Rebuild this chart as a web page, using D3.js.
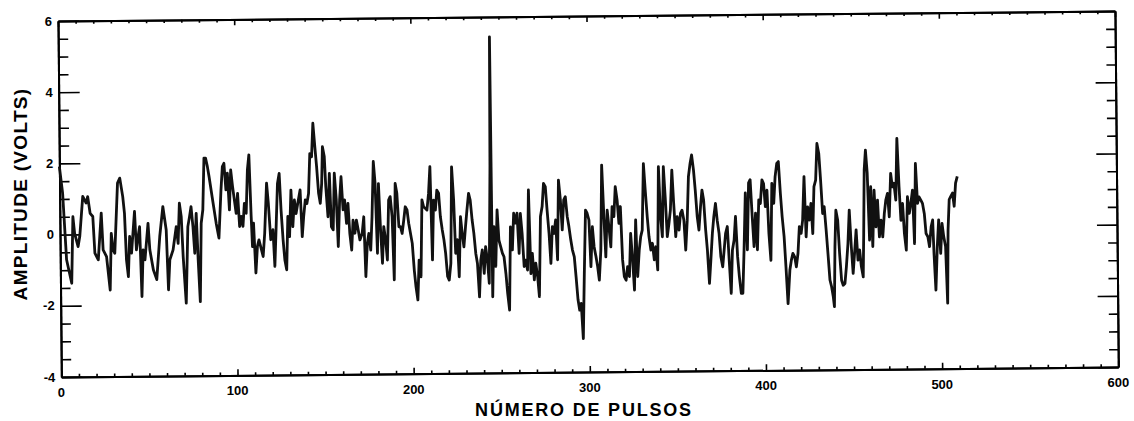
<!DOCTYPE html>
<html>
<head>
<meta charset="utf-8">
<script src="https://cdn.jsdelivr.net/npm/d3@7"></script>
<style>
  html, body { margin: 0; padding: 0; background: #fff; overflow: hidden; }
  svg { display: block; }
  text { font-family: "Liberation Sans", Arial, sans-serif; }
</style>
</head>
<body>
<div id="plot"></div>
<script>
// axis ticks and titles
const xTicks = [0, 100, 200, 300, 400, 500, 600];
const yTicks = [-4, -2, 0, 2, 4, 6];
const xTitle = "NÚMERO DE PULSOS";
const yTitle = "AMPLITUDE (VOLTS)";

// series: pulse number and amplitude (volts)
const pulses = [
  0, 1.7, 3.6, 6.4, 7.4, 8.3, 10.2, 11.2, 13.1, 15.0, 15.9, 17.2, 18.7, 19.7, 21.6, 23.5, 24.4, 26.3, 28.2, 29.1,
  30.1, 31.0, 32.9, 34.2, 35.8, 36.7, 37.6, 38.6, 39.5, 40.5, 42.4, 43.3, 44.3, 45.2, 46.2, 47.1, 48.1, 50.0, 50.9, 52.8,
  54.7, 56.6, 58.5, 60.3, 61.3, 62.2, 64.1, 66.0, 67.0, 67.9, 68.9, 69.8, 71.3, 72.6, 73.6, 74.5, 75.5, 76.4, 77.4, 78.3,
  79.3, 80.2, 81.2, 82.1, 83.0, 84.0, 84.9, 86.8, 88.7, 90.2, 91.6, 92.5, 93.4, 94.4, 95.3, 96.3, 97.2, 98.2, 100.1, 101.0,
  102.0, 102.9, 103.9, 104.8, 105.8, 106.7, 107.6, 108.6, 109.2, 109.9, 111.0, 112.0, 112.9, 114.3, 115.2, 116.2, 117.5, 118.4, 119.6, 120.9,
  121.8, 122.8, 123.7, 124.7, 125.6, 126.6, 127.5, 128.5, 129.4, 130.3, 131.3, 132.2, 133.2, 134.1, 135.1,
  136.5, 137.5, 138.4, 139.4, 140.3, 141.3, 142.2, 143.2, 144.1, 145.1, 146.0, 147.0, 147.9, 148.8, 149.4, 150.4, 151.1, 152.2, 153.2, 154.1,
  155.1, 156.0, 157.0, 157.9, 158.9, 159.8, 160.8, 161.7, 162.7, 163.6, 164.5, 165.5, 166.4, 167.4, 168.3, 169.3, 170.2, 171.5, 172.5, 173.4,
  174.4, 175.3, 176.3, 177.2, 178.2, 179.1, 180.1, 181.0, 181.9, 182.9, 183.8, 184.8, 185.7, 186.7, 187.6, 188.6, 189.5, 190.5, 191.4, 192.4,
  193.3, 194.2, 195.2, 196.1, 197.1, 198.0, 199.9, 200.9, 201.8, 202.8, 203.7, 204.7, 205.6, 206.5, 208.4, 209.4, 210.3, 211.3, 212.2, 213.2,
  214.1, 215.1, 216.0, 217.0, 217.9, 218.8, 219.8, 220.7, 221.7, 222.6, 223.6, 224.5, 225.5, 226.4, 227.4, 228.3, 229.2, 230.2, 231.1, 232.1,
  233.0, 234.0, 234.9, 235.9, 236.8, 237.8, 238.7, 239.6, 240.6, 241.5, 242.5, 243.4, 244.4, 244.8, 245.3, 246.3, 247.2, 248.2, 249.1, 250.1,
  251.0, 251.9, 252.9, 253.8, 254.8, 255.7, 256.7, 257.6, 258.6, 259.5, 260.5, 261.4, 262.3, 263.3, 264.2, 265.2, 266.1, 267.1, 268.0, 269.0,
  269.9, 270.9, 271.8,
  272.8, 273.8, 274.7, 275.7, 276.6, 277.6, 278.5, 279.5, 280.4, 281.4, 282.3, 283.2, 284.2, 285.1, 286.1, 287.0, 288.0, 288.9, 289.9, 290.8,
  291.8, 292.7, 293.7, 294.6, 295.5, 296.5, 297.4, 298.4, 299.3, 300.3, 301.2, 302.2, 303.1, 304.1, 305.0, 305.9, 306.9, 307.8, 308.8, 309.7,
  310.7, 311.6, 312.6, 313.5, 314.5, 315.4, 316.4, 317.3, 318.2, 319.2, 320.1, 321.1, 322.0, 323.0, 323.9, 324.9, 325.8, 326.8, 327.7, 328.7,
  329.6, 330.5, 331.5, 332.4, 333.4, 334.3, 335.3, 336.2, 337.2, 338.1, 339.1, 340.0, 341.0, 341.9, 342.8, 343.8, 344.7, 345.7, 346.6, 347.6,
  348.5, 349.5, 350.4, 351.4, 352.3, 353.2, 354.2, 355.1, 356.1, 357.0, 358.0, 358.9, 359.9, 360.8, 361.8, 362.7, 363.7, 364.6, 365.5, 366.5,
  367.4, 368.4, 369.3, 370.3, 371.2, 372.2, 373.1, 374.1, 375.0, 376.0, 376.9, 377.8, 378.8, 379.7, 380.7, 381.6, 382.6, 383.5, 384.5, 385.4,
  386.4, 387.3, 388.2, 389.2, 390.1, 391.1, 392.0, 393.0, 393.9, 394.9, 395.8, 396.8, 397.7, 398.7, 399.6, 400.5, 401.5, 402.4, 403.4, 404.3,
  405.3, 406.2, 407.2, 408.1, 409.1, 410.0, 411.0, 411.9, 412.9,
  414.1, 415.0, 415.9, 416.9, 417.8, 418.8, 419.7, 420.7, 421.6, 422.6, 423.5, 424.5, 425.4, 426.4, 427.3, 428.2, 429.2, 430.1, 431.1, 432.0,
  433.0, 433.9, 434.9, 435.8, 436.8, 437.7, 438.6, 439.2, 439.8, 440.5, 441.5, 442.4, 443.4, 444.3, 445.3, 446.2, 447.2, 448.1, 449.1, 450.0,
  450.9, 451.9, 452.8, 453.8, 454.7, 455.7, 456.2, 456.8, 457.6, 458.5, 459.5, 460.4, 461.3, 462.3, 463.2, 464.2, 465.1, 466.1, 467.0, 468.0,
  468.9, 469.9, 470.8, 471.8, 472.7, 473.6, 474.6, 475.5, 476.5, 477.4, 478.4, 479.3, 480.3, 481.2, 482.2, 483.1, 484.1, 485.0, 485.9, 486.9,
  487.8, 488.8, 489.7, 490.7, 491.6, 492.6, 493.5, 494.5, 495.4, 496.0, 496.9, 497.9, 498.8, 499.8, 500.7, 501.6, 502.6, 503.5, 504.1, 504.9,
  505.8, 506.8, 507.7, 508.6, 509.6
];
const amplitude = [
  1.91, 1.16, -0.71, -1.37, 0.50, 0.03, -0.34, -0.06, 1.07, 0.88, 1.06, 0.59, 0.50, -0.53, -0.72, 0.59, -0.44, -0.63, -1.57, 0.02,
  -0.45, -0.54, 1.43, 1.57, 1.05, 0.58, -0.73, -1.20, -0.07, -0.54, 0.63, -0.45, -0.08, 0.20, -1.76, -0.45, -0.73, 0.29, -0.45, -1.01,
  -1.29, -0.08, 0.76, 0.10, -1.58, -0.74, -0.46, 0.19, -0.28, 0.85, 0.47, -0.65, -1.96, 0.19, 0.47, 0.75, 0.19, -0.56, 0.56, -0.75,
  -1.92, 0.28, 0.66, 2.11, 2.11, 1.87, 1.59, 0.93, 0.28, -0.14, 1.21, 1.87, 1.96, 1.21, 1.68, 0.65, 1.77, 1.30, 0.55, 1.11,
  0.18, 0.46, 0.18, 0.83, 0.55, 1.77, 2.19, 0.46, -0.39, 0.27, -1.13, -0.38, -0.20, -0.48, -0.67, -0.01, 1.39, 0.83, -0.20, 0.08,
  -0.95, 0.26, 1.38, 1.66, 0.63, -0.21, -0.77, -1.05, 0.45, -0.12, 1.19, 0.16, 0.91, 0.53, 0.81,
  1.19, -0.12, 0.44, 0.91, 0.81, 1.09, 2.21, 2.12, 3.06, 2.40, 1.84, 1.09, 0.81, 1.37, 2.40, 2.12, 1.28, 0.43, 1.65, 0.15,
  0.06, 1.65, 0.90, -0.41, 0.90, 1.55, 0.62, 0.90, 0.24, 0.80, -0.04, -0.51, 0.33, -0.04, 0.33, 0.05, -0.23, -0.05, 0.42, -1.26,
  -0.33, -0.05, -0.52, 0.42, 1.97, 1.36, -0.61, 1.35, 0.14, -0.89, 0.14, -0.24, -0.80, 0.88, 0.98, 0.42, -1.36, 1.35, 1.07, 0.13,
  0.13, -0.06, 0.32, 0.69, 0.60, 0.22, -0.34, -1.09, -1.56, -1.93, -0.81, -1.28, 0.88, 0.69, 0.59, 1.06, 1.81, -0.81, 0.87, 0.59,
  1.15, 1.06, 0.40, 0.03, -0.25, -0.63, -1.28, -1.38, -0.91, 1.80, 0.87, -0.63, -0.25, -1.29, 0.40, -0.07, -0.45, 0.11, 0.58, 1.05,
  0.86, 0.30, -0.07, -0.64, -0.92, -1.86, -0.83, -0.54, -1.20, -0.45, -0.83, -1.48, 1.79, 5.44, -1.86, 0.11, -1.01, 0.58, -0.27, -0.46,
  -0.64, -0.74, -1.21, -1.77, -2.24, 0.10, -0.55, 0.48, 0.20, 0.48, -0.65, 0.47, -0.09, -1.02, -0.84, -1.12, 1.13, -1.22, -0.65, -1.40,
  -0.93, -1.31, -1.87,
  0.38, 0.66, 1.31, 1.22, 0.56, -0.10, -0.94, 0.09, -0.10, 0.28, -0.84, 1.40, 0.84, 0.00, 0.84, 0.93, 0.37, 0.09, -0.29, -0.57,
  -0.76, -1.32, -1.97, -2.26, -2.07, -3.06, -1.23, 0.55, 0.46, 0.27, -1.04, 0.08, -0.48, -0.76, -1.04, -1.42, -0.58, 1.81, 0.36, -0.77,
  0.54, 0.08, -0.49, 0.64, 0.36, 1.20, 0.82, 0.17, 0.64, -0.86, -1.33, -1.43, -1.05, -1.33, -0.12, -0.87, -1.71, 0.26, -1.33, -0.59,
  -0.21, -0.03, 1.84, 1.10, 0.35, -0.21, -0.59, -0.40, -0.87, -0.50, -1.15, 1.75, 0.35, -0.22, 1.75, 0.81, -0.22, 0.15, 0.53, 1.65,
  0.71, -0.22, 0.34, -0.04, 0.43, 0.52, 0.24, -0.60, 0.24, 1.46, 1.83, 2.07, 1.65, 1.08, 0.33, -0.04, 0.61, 1.08, 0.80, -0.04,
  -0.61, -1.54, -0.89, -0.14, 0.33, 0.70, 0.23, -0.14, -0.80, -1.08, -0.61, -0.14, 0.05, -0.89, -1.83, -0.61, -0.33, 0.33, -0.80, -1.36,
  -1.83, -1.83, -0.61, 0.99, -0.61, 1.27, 1.36, 0.33, -0.52, 0.42, -0.61, 0.79, 0.69, 1.35, 1.25, 0.60, 1.06, -0.16, -0.91, 1.25,
  0.69, 1.44, 1.81, 1.86, 0.97, 0.31, -0.25, -1.10, -2.13,
  -1.19, -0.91, -0.72, -0.82, -1.10, -0.72, 0.03, -0.16, 0.21, 1.43, -0.26, 0.58, 0.21, 0.68, -0.17, 1.15, 1.33, 2.36, 2.08, 1.33,
  0.39, 0.58, -0.08, -0.73, -1.48, -1.67, -1.95, -2.23, -0.55, 0.48, 0.20, -0.73, -1.49, -1.63, -1.58, -1.11, -0.46, 0.48, -0.55, -1.30,
  -0.74, -0.08, -0.93, -0.64, -1.11, -1.40, -0.18, 1.60, 2.16, 1.51, -0.37, 1.13, -0.55, 1.03, 0.00, 0.75, -0.28, 0.19, -0.28, 0.37,
  0.75, 0.94, 0.28, 1.50, 1.12, 1.22, 0.75, 2.48, 1.12, 0.18, 0.65, -0.19, -0.66, 0.84, 0.37, 0.65, 1.02, -0.48, 1.77, 0.65,
  0.83, 0.74, 0.65, 0.36, -0.20, -0.29, -0.57, -0.01, 0.18, -0.76, -1.79, -0.57, 0.18, -0.76, 0.08, -0.29, -0.57, -2.16, -0.10, 0.75,
  0.84, 0.93, 0.56, 1.21, 1.40
];

const w = 1134;
const h = 421;
const margin = {top: 21, right: 19, bottom: 44, left: 58};
const innerWidth = w - margin.left - margin.right;
const innerHeight = h - margin.top - margin.bottom;
const tilt = -0.54; // the scanned page is slightly rotated
const rad = tilt * Math.PI / 180;

// where a point of the (tilted) plot frame lands on the page
function onPage(lx, ly) {
  return [margin.left + lx * Math.cos(rad) - ly * Math.sin(rad),
          margin.top + lx * Math.sin(rad) + ly * Math.cos(rad)];
}

const svg = d3.select("div#plot")
  .append("svg")
  .attr("width", w)
  .attr("height", h);

svg.append("rect")
  .attr("width", w)
  .attr("height", h)
  .attr("fill", "white");

const xScale = d3.scaleLinear().domain([0, 600]).range([0, innerWidth]);
const yScale = d3.scaleLinear().domain([-4, 6]).range([innerHeight, 0]);

const xMinor = d3.range(0, 601, 10).filter(d => !xTicks.includes(d));
const yMinor = d3.range(-4, 6.01, 0.5).filter(d => !yTicks.includes(d));

const plot = svg.append("g")
  .attr("transform", `translate(${margin.left},${margin.top}) rotate(${tilt})`);

function styleAxis(g) {
  g.select(".domain").attr("stroke", "#000").attr("stroke-width", 2);
  g.selectAll(".tick line").attr("stroke", "#000").attr("stroke-width", 1.6);
}

// axes with inward ticks, labels drawn separately below
const axes = [
  [d3.axisBottom, xTicks, -6, `translate(0,${innerHeight})`],
  [d3.axisBottom, xMinor, -3, `translate(0,${innerHeight})`],
  [d3.axisTop, xTicks, -6, null],
  [d3.axisTop, xMinor, -3, null],
  [d3.axisLeft, yTicks, -21, null],
  [d3.axisLeft, yMinor, -10, null],
  [d3.axisRight, yTicks, -20, `translate(${innerWidth},0)`],
  [d3.axisRight, yMinor, -9, `translate(${innerWidth},0)`]
];
axes.forEach(([axisFn, values, size, tr]) => {
  const scale = (axisFn === d3.axisBottom || axisFn === d3.axisTop) ? xScale : yScale;
  plot.append("g")
    .attr("transform", tr)
    .call(axisFn(scale).tickValues(values).tickSize(size).tickSizeOuter(0).tickFormat(""))
    .call(styleAxis);
});

// trace
const line = d3.line()
  .x((d, i) => xScale(pulses[i]))
  .y(d => yScale(d));

plot.append("path")
  .datum(amplitude)
  .attr("d", line)
  .attr("fill", "none")
  .attr("stroke", "#111")
  .attr("stroke-width", 2.8)
  .attr("stroke-linejoin", "round");

// tick labels
svg.append("g")
  .selectAll("text")
  .data(xTicks)
  .join("text")
  .attr("x", d => onPage(xScale(d), innerHeight + 10)[0])
  .attr("y", d => onPage(xScale(d), innerHeight + 10)[1] + 10)
  .attr("text-anchor", "middle")
  .style("font-size", "13px")
  .style("font-weight", "bold")
  .text(d => String(d));

svg.append("g")
  .selectAll("text")
  .data(yTicks)
  .join("text")
  .attr("x", d => onPage(-6, yScale(d))[0])
  .attr("y", d => onPage(-6, yScale(d))[1] + 4.5)
  .attr("text-anchor", "end")
  .style("font-size", "13px")
  .style("font-weight", "bold")
  .text(d => String(d));

// titles
svg.append("text")
  .attr("x", 584)
  .attr("y", 416)
  .attr("text-anchor", "middle")
  .style("font-size", "18px")
  .style("font-weight", "bold")
  .style("letter-spacing", "1.8px")
  .text(xTitle);

svg.append("text")
  .attr("transform", "translate(27,194) rotate(-90)")
  .attr("text-anchor", "middle")
  .style("font-size", "19px")
  .style("font-weight", "bold")
  .style("letter-spacing", "1.3px")
  .text(yTitle);
</script>
</body>
</html>
